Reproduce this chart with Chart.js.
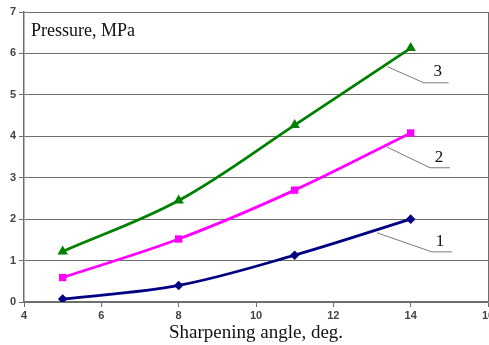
<!DOCTYPE html>
<html>
<head>
<meta charset="utf-8">
<script src="https://cdn.jsdelivr.net/npm/chart.js@4/dist/chart.umd.min.js"></script>
<style>
  html, body { margin: 0; padding: 0; background: #fff; overflow: hidden; }
  #wrap { width: 500px; height: 345px; }
</style>
</head>
<body>
<div id="wrap"><canvas id="chart" width="500" height="345"></canvas></div>
<script>
/* Pressure vs sharpening angle — three curves */

const angles   = [5, 8, 11, 14];
const curve1   = [0.07, 0.40, 1.13, 2.00];
const curve2   = [0.59, 1.52, 2.70, 4.08];
const curve3   = [1.22, 2.45, 4.27, 6.13];
const curveIds = ['1', '2', '3'];
const xTicks   = [4, 6, 8, 10, 12, 14, 16];
const yTicks   = [0, 1, 2, 3, 4, 5, 6, 7];

// leader callouts in axis units: [start, elbow, end, text]
const callouts = [
  { from: [13.13, 1.67], elbow: [14.55, 1.21], to: 15.07, text: [14.76, 1.47] },
  { from: [13.39, 3.74], elbow: [14.50, 3.24], to: 15.02, text: [14.73, 3.48] },
  { from: [13.40, 5.68], elbow: [14.34, 5.29], to: 14.98, text: [14.70, 5.56] },
];

const SERIF = "'Liberation Serif', 'DejaVu Serif', serif";
const SANS  = "'Liberation Sans', Arial, sans-serif";
const GRID  = '#6e6e6e';
const TICK_FONT = { family: SANS, size: 11, weight: 'bold' };

const toXY = (xs, ys) => xs.map((x, i) => ({ x, y: ys[i] }));

/* ── Callout leaders + y title inside the plot ─────────────────── */
const calloutPlugin = {
  id: 'callouts',
  afterDatasetsDraw(chart) {
    const { ctx, scales: { x, y }, chartArea } = chart;
    ctx.save();
    callouts.forEach((c, i) => {
      ctx.strokeStyle = '#7a7a7a';
      ctx.lineWidth = 1;
      ctx.beginPath();
      ctx.moveTo(x.getPixelForValue(c.from[0]), y.getPixelForValue(c.from[1]));
      ctx.lineTo(x.getPixelForValue(c.elbow[0]), y.getPixelForValue(c.elbow[1]));
      ctx.lineTo(x.getPixelForValue(c.to), y.getPixelForValue(c.elbow[1]));
      ctx.stroke();
      ctx.fillStyle = '#111';
      ctx.font = '17px ' + SERIF;
      ctx.textAlign = 'center';
      ctx.textBaseline = 'middle';
      ctx.fillText(curveIds[i], x.getPixelForValue(c.text[0]), y.getPixelForValue(c.text[1]));
    });
    ctx.fillStyle = '#111';
    ctx.font = '18px ' + SERIF;
    ctx.textAlign = 'left';
    ctx.textBaseline = 'middle';
    ctx.fillText('Pressure, MPa', chartArea.left + 7, chartArea.top + 19);
    ctx.restore();
  },
};

const lineStyle = (color, pointStyle, radius) => ({
  borderColor: color,
  backgroundColor: color,
  borderWidth: 2.8,
  pointStyle,
  pointRadius: radius,
  pointBorderWidth: 0,
  tension: 0.35,
  fill: false,
});

new Chart(document.getElementById('chart'), {
  type: 'line',
  data: {
    datasets: [
      { label: curveIds[0], data: toXY(angles, curve1), ...lineStyle('#000080', 'rectRot', 4.8) },
      { label: curveIds[1], data: toXY(angles, curve2), ...lineStyle('#ff00ff', 'rect', 5.2) },
      { label: curveIds[2], data: toXY(angles, curve3), ...lineStyle('#008000', 'triangle', 6) },
    ],
  },
  options: {
    responsive: false,
    animation: false,
    layout: { padding: { top: 12, right: 12, bottom: 0, left: 0 } },
    plugins: { legend: { display: false }, tooltip: { enabled: false } },
    scales: {
      x: {
        type: 'linear',
        min: xTicks[0],
        max: xTicks[xTicks.length - 1],
        afterBuildTicks: (s) => { s.ticks = xTicks.map(v => ({ value: v })); },
        afterFit: (s) => { s.height = 43; },
        ticks: { color: '#444', font: TICK_FONT, padding: 2, maxRotation: 0 },
        grid: {
          color: (c) => (c.index === xTicks.length - 1 ? GRID : 'transparent'),
          tickColor: GRID,
          tickLength: 5,
        },
        border: { color: GRID, width: 1.5 },
        title: {
          display: true,
          text: 'Sharpening angle, deg.',
          color: '#111',
          font: { family: SERIF, size: 19 },
          padding: { top: 0, bottom: 1 },
        },
      },
      y: {
        min: yTicks[0],
        max: yTicks[yTicks.length - 1],
        afterBuildTicks: (s) => { s.ticks = yTicks.map(v => ({ value: v })); },
        afterFit: (s) => { s.width = 24; },
        ticks: { color: '#444', font: TICK_FONT, padding: 3 },
        grid: { color: GRID, tickColor: GRID, tickLength: 5 },
        border: { color: GRID, width: 1.5 },
      },
    },
  },
  plugins: [calloutPlugin],
});
</script>
</body>
</html>
